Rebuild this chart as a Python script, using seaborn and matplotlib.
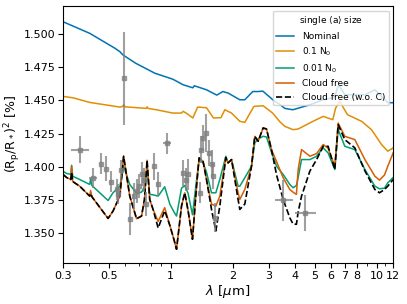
import numpy as np
import pandas as pd
import matplotlib
matplotlib.use("Agg")
import matplotlib.pyplot as plt
import seaborn as sns
from matplotlib.ticker import FixedLocator, FormatStrFormatter, NullFormatter

# --- model spectra ---
wl_nominal = [0.300, 0.404, 0.535, 0.566, 0.585, 0.675, 0.836, 1.022, 1.147, 1.279, 1.30,
              1.333, 1.49, 1.672, 1.788, 1.90, 2.162, 2.286, 2.50, 2.65, 2.796, 3.127, 3.38,
              3.576, 3.91, 4.73, 5.47, 6.11, 6.30, 6.47, 6.60, 6.99, 8.75, 9.78, 11.3, 12.0]
nominal = [1.5092, 1.5005, 1.4893, 1.4867, 1.4843, 1.4780, 1.4705, 1.4660, 1.4618, 1.4595, 1.4610,
           1.4605, 1.4580, 1.4540, 1.4567, 1.4555, 1.4505, 1.4505, 1.4567, 1.4567, 1.4570, 1.4505, 1.4470,
           1.4440, 1.4430, 1.4467, 1.4505, 1.4520, 1.4545, 1.4605, 1.4605, 1.4543, 1.4543, 1.4580, 1.4483, 1.4483]

wl_01 = [0.300, 0.335, 0.404, 0.566, 0.585, 0.590, 0.600, 0.760, 0.767, 0.775, 0.850, 1.022,
         1.127, 1.147, 1.20, 1.279, 1.35, 1.49, 1.61, 1.75, 1.83, 1.97, 2.162, 2.286, 2.53,
         2.806, 3.12, 3.38, 3.576, 3.92, 4.15, 4.90, 5.49, 6.11, 6.31, 6.60, 7.20, 8.43,
         9.42, 10.54, 11.3, 12.0]
n01 = [1.4530, 1.4520, 1.4485, 1.4450, 1.4455, 1.4468, 1.4452, 1.4440, 1.4452, 1.4440, 1.4430, 1.4405,
       1.4405, 1.4418, 1.4400, 1.4368, 1.4450, 1.4445, 1.4368, 1.4370, 1.4430, 1.4405, 1.4343, 1.4335, 1.4455,
       1.4460, 1.4405, 1.4340, 1.4305, 1.4280, 1.4285, 1.4343, 1.4380, 1.4355, 1.4443, 1.4493, 1.4393, 1.4343,
       1.4280, 1.4168, 1.4118, 1.4143]

wl_low = [0.300, 0.312, 0.327, 0.330, 0.334, 0.361, 0.404, 0.408, 0.414, 0.496, 0.524, 0.566,
          0.590, 0.632, 0.682, 0.721, 0.745, 0.767, 0.790, 0.820, 0.868, 0.934, 0.989, 1.037,
          1.066, 1.127, 1.169, 1.213, 1.274, 1.333, 1.372, 1.435, 1.49, 1.576, 1.654, 1.729,
          1.849, 1.897, 1.971, 2.121, 2.162, 2.286, 2.464, 2.556, 2.653, 2.806, 2.914, 3.08,
          3.26, 3.51, 3.78, 3.92, 4.07, 4.15, 4.31, 4.73, 5.10, 5.49, 5.80, 6.25, 6.49, 6.99,
          7.82, 8.75, 9.78, 10.3, 10.9, 11.3, 12.0]
n001 = [1.3967, 1.3950, 1.3945, 1.4012, 1.3930, 1.3905, 1.3868, 1.3910, 1.3860, 1.3747, 1.3805, 1.3855,
        1.4005, 1.3868, 1.3800, 1.3810, 1.3850, 1.3980, 1.3793, 1.3790, 1.3780, 1.3850, 1.3720, 1.3660,
        1.3630, 1.3840, 1.3860, 1.3800, 1.3640, 1.3900, 1.4055, 1.4030, 1.3960, 1.3805, 1.3805, 1.3905,
        1.4080, 1.4030, 1.4055, 1.3855, 1.3855, 1.3918, 1.4005, 1.4180, 1.4210, 1.4230, 1.4225, 1.4110,
        1.4005, 1.3943, 1.3868, 1.3843, 1.3860, 1.3920, 1.4055, 1.4055, 1.4080, 1.4143, 1.4105, 1.3980,
        1.4280, 1.4155, 1.4130, 1.3980, 1.3855, 1.3835, 1.3840, 1.3880, 1.3920]
cloud_free = [1.3943, 1.3920, 1.3905, 1.4005, 1.3890, 1.3855, 1.3780, 1.3822, 1.3775, 1.3612, 1.3667, 1.3780,
              1.4080, 1.3780, 1.3610, 1.3630, 1.3755, 1.4050, 1.3755, 1.3680, 1.3590, 1.3693, 1.3560, 1.3450,
              1.3380, 1.3705, 1.3805, 1.3670, 1.3455, 1.3855, 1.4068, 1.4040, 1.3905, 1.3720, 1.3705, 1.3780,
              1.4070, 1.4030, 1.4055, 1.3805, 1.3755, 1.3830, 1.4005, 1.4230, 1.4193, 1.4293, 1.4285, 1.4130,
              1.4040, 1.3918, 1.3830, 1.3810, 1.3793, 1.3980, 1.4130, 1.4080, 1.4100, 1.4168, 1.4140, 1.4005,
              1.4330, 1.4230, 1.4205, 1.4055, 1.3930, 1.3900, 1.3940, 1.4005, 1.4105]
cloud_free_woc = [1.3943, 1.3920, 1.3905, 1.3960, 1.3890, 1.3855, 1.3780, 1.3800, 1.3775, 1.3612, 1.3667, 1.3780,
                  1.4080, 1.3780, 1.3610, 1.3630, 1.3755, 1.4050, 1.3755, 1.3680, 1.3540, 1.3670, 1.3560, 1.3450,
                  1.3380, 1.3705, 1.3805, 1.3670, 1.3455, 1.3855, 1.4068, 1.4040, 1.3905, 1.3680, 1.3518, 1.3705,
                  1.4070, 1.4030, 1.4055, 1.3755, 1.3680, 1.3720, 1.4005, 1.4230, 1.4193, 1.4293, 1.4285, 1.4130,
                  1.3940, 1.3755, 1.3617, 1.3570, 1.3568, 1.3660, 1.3780, 1.3968, 1.4055, 1.4155, 1.4155, 1.3980,
                  1.4318, 1.4205, 1.4143, 1.3970, 1.3830, 1.3805, 1.3830, 1.3855, 1.3905]

# --- observed transit depths ---
obs_wl = [0.361, 0.419, 0.457, 0.487, 0.515, 0.545, 0.554, 0.576, 0.590, 0.632, 0.664, 0.682,
          0.699, 0.721, 0.740, 0.762, 0.830, 0.868, 0.961, 1.147, 1.19, 1.213, 1.39, 1.409,
          1.435, 1.49, 1.534, 1.576, 1.604, 1.635, 3.51, 4.47]
obs_depth = [1.4130, 1.3918, 1.4025, 1.3985, 1.3888, 1.3830, 1.3793, 1.3980, 1.4668, 1.3605, 1.3780, 1.3820,
             1.3855, 1.3943, 1.3900, 1.3718, 1.4005, 1.3868, 1.4178, 1.3955, 1.3905, 1.3943, 1.3805, 1.4130,
             1.4218, 1.4255, 1.4105, 1.4025, 1.3930, 1.3617, 1.3750, 1.3655]
obs_err = [0.0102, 0.0075, 0.0080, 0.0094, 0.0080, 0.0080, 0.0075, 0.0075, 0.0350, 0.0120, 0.0100, 0.0090,
           0.0090, 0.0090, 0.0090, 0.0090, 0.0100, 0.0090, 0.0080, 0.0100, 0.0090, 0.0120, 0.0080, 0.0100,
           0.0100, 0.0140, 0.0100, 0.0100, 0.0100, 0.0110, 0.0155, 0.0137]
obs_wl_lo = [0.032, 0.018, 0, 0, 0, 0, 0, 0, 0, 0, 0, 0, 0, 0, 0, 0, 0, 0, 0.042, 0, 0, 0, 0, 0,
             0, 0, 0, 0, 0, 0, 0.30, 0.47]
obs_wl_hi = [0.039, 0.019, 0, 0, 0, 0, 0, 0, 0, 0, 0, 0, 0, 0, 0, 0, 0, 0, 0.044, 0, 0, 0, 0, 0,
             0, 0, 0, 0, 0, 0, 0.41, 0.59]

pal = sns.color_palette("colorblind")
models = [
    ("Nominal", wl_nominal, nominal, pal[0], "-"),
    ("0.1 N$_0$", wl_01, n01, pal[1], "-"),
    ("0.01 N$_0$", wl_low, n001, pal[2], "-"),
    ("Cloud free", wl_low, cloud_free, pal[3], "-"),
    ("Cloud free (w.o. C)", wl_low, cloud_free_woc, "black", "--"),
]

fig, ax = plt.subplots(figsize=(4.07, 3.04), dpi=100)
fig.subplots_adjust(left=0.155, right=0.966, bottom=0.135, top=0.980)

for name, wl, vals, col, ls in models:
    df = pd.DataFrame({"wl": wl, "depth": vals})
    sns.lineplot(data=df, x="wl", y="depth", ax=ax, color=col, linestyle=ls,
                 lw=1.1 if ls == "-" else 1.2, label=name, estimator=None, sort=False)

ax.errorbar(obs_wl, obs_depth, yerr=obs_err, xerr=[obs_wl_lo, obs_wl_hi], fmt="s",
            color="gray", ms=3, elinewidth=1.5, alpha=0.75, zorder=5)

ax.set_xscale("log")
ax.set_xlim(0.3, 12)
ax.set_ylim(1.3277, 1.521)
xt = [0.3, 0.5, 1, 2, 3, 4, 5, 6, 7, 8, 10, 12]
ax.xaxis.set_major_locator(FixedLocator(xt))
ax.set_xticklabels(["0.3", "0.5", "1", "2", "3", "4", "5", "6", "7", "8", "10", "12"])
ax.xaxis.set_minor_locator(FixedLocator([0.4, 0.6, 0.7, 0.8, 0.9, 9, 11]))
ax.xaxis.set_minor_formatter(NullFormatter())
ax.set_yticks([1.350, 1.375, 1.400, 1.425, 1.450, 1.475, 1.500])
ax.yaxis.set_major_formatter(FormatStrFormatter("%.3f"))
ax.tick_params(labelsize=8, pad=2)

ax.set_xlabel(r"$\lambda$ [$\mu$m]", fontsize=9.5, labelpad=2)
ax.set_ylabel(r"(R$_\mathrm{p}$/R$_*$)$^2$ [%]", fontsize=9)
ax.yaxis.set_label_coords(-0.122, 0.5)

ax.legend(title=r"single $\langle\mathrm{a}\rangle$ size", loc="upper right", fontsize=6.5,
          title_fontsize=6.5)

plt.savefig("out.png", dpi=100)
